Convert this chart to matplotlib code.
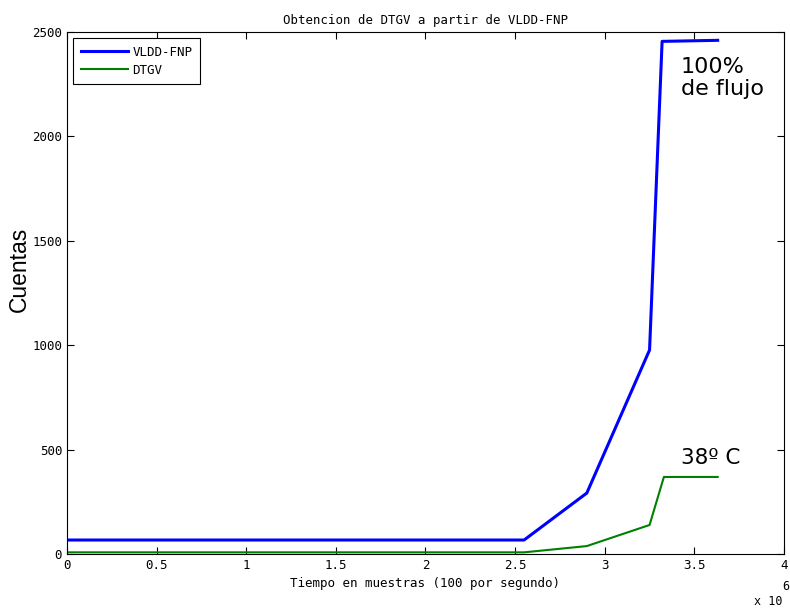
import matplotlib
matplotlib.use("Agg")
import matplotlib.pyplot as plt

# Time in samples (x 10^6) and counts for each signal
vldd_t = [0.0, 2.55, 2.90, 3.25, 3.32, 3.63]
vldd_counts = [67, 67, 292, 977, 2455, 2460]

dtgv_t = [0.0, 2.55, 2.90, 3.25, 3.33, 3.63]
dtgv_counts = [8, 8, 38, 139, 369, 369]

x_ticks = [0, 0.5, 1, 1.5, 2, 2.5, 3, 3.5, 4]
x_tick_labels = ["0", "0.5", "1", "1.5", "2", "2.5", "3", "3.5", "4"]
y_ticks = [0, 500, 1000, 1500, 2000, 2500]

mono = "DejaVu Sans Mono"

fig = plt.figure(figsize=(7.9, 6.09), dpi=100)
ax = fig.add_axes([0.0848, 0.0903, 0.9076, 0.8572])

ax.plot(vldd_t, vldd_counts, color="#0000ff", lw=2.2, label="VLDD-FNP")
ax.plot(dtgv_t, dtgv_counts, color="#008000", lw=1.5, label="DTGV")

ax.set_xlim(0, 4)
ax.set_ylim(0, 2500)
ax.set_xticks(x_ticks)
ax.set_xticklabels(x_tick_labels, fontfamily=mono, fontsize=9)
ax.set_yticks(y_ticks)
ax.set_yticklabels([str(v) for v in y_ticks], fontfamily=mono, fontsize=9)
ax.tick_params(direction="in", top=True, right=True, length=5, width=0.8)
for s in ax.spines.values():
    s.set_linewidth(0.8)

ax.set_title("Obtencion de DTGV a partir de VLDD-FNP", fontfamily=mono,
             fontsize=8.9, pad=6)
ax.set_xlabel("Tiempo en muestras (100 por segundo)", fontfamily=mono,
              fontsize=9, labelpad=4)
ax.set_ylabel("Cuentas", fontfamily="Liberation Sans", fontsize=16.5)
ax.yaxis.set_label_coords(-0.05, 0.545)

leg = ax.legend(loc="upper left", prop={"family": mono, "size": 9},
                fancybox=False, edgecolor="black", framealpha=1,
                handlelength=3.8, handletextpad=0.35, borderpad=0.6,
                borderaxespad=0.5, labelspacing=0.4)
leg.get_frame().set_linewidth(0.8)

ax.text(3.425, 2280, "100%\nde flujo", fontsize=16, ha="left", va="center",
        linespacing=1.15)
ax.text(3.425, 458, "38º C", fontsize=15.5, ha="left", va="center")

fig.text(0.955, 0.002, "x 10", fontfamily=mono, fontsize=8.5, ha="left",
         va="bottom")
fig.text(0.990, 0.026, "6", fontfamily=mono, fontsize=8.5, ha="left",
         va="bottom")

fig.savefig("out.png", dpi=100)
